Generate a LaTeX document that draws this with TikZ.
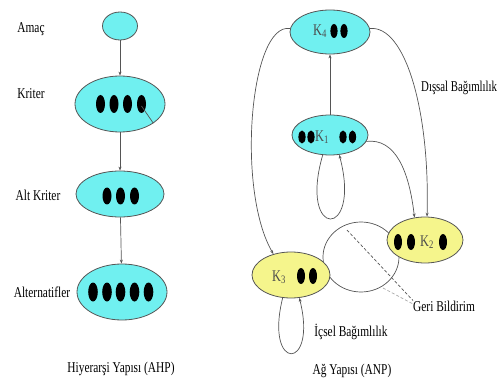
\documentclass[tikz,border=0pt]{standalone}
\usepackage{fontspec}
\usepackage{graphicx}
\setmainfont{Liberation Serif}
\usetikzlibrary{arrows.meta,shapes.geometric}
\definecolor{aqua}{RGB}{112,240,240}
\definecolor{lyellow}{RGB}{245,245,140}
\definecolor{edge}{RGB}{85,85,85}
\newcommand\talltext[1]{\scalebox{0.95}[1.25]{#1}}
\begin{document}
\begin{tikzpicture}[x=1pt,y=-1pt,
  ell/.style={ellipse,draw=edge,line width=0.8pt,inner sep=0pt},
  cy/.style={ell,fill=aqua},
  ye/.style={ell,fill=lyellow},
  lbl/.style={font=\fontsize{12}{14}\selectfont,inner sep=0pt},
  conn/.style={draw=edge,line width=0.7pt},
  arr/.style={conn,-{Stealth[length=4pt,width=3pt]}},
  fb/.style={conn,dash pattern=on 3pt off 2pt},
  ktext/.style={font=\fontsize{13}{14}\selectfont,text=black!70,inner sep=0pt}]
\useasboundingbox (0,0) rectangle (501,385);

% feedback loop behind K3 and K2
\draw[conn] (361,257) ellipse [x radius=38, y radius=35];

% AHP nodes
\node[cy,minimum width=35,minimum height=28] (amac) at (120,26) {};
\node[cy,minimum width=90,minimum height=56] (krit) at (120,104) {};
\node[cy,minimum width=88,minimum height=46] (alt) at (120,194) {};
\node[cy,minimum width=90,minimum height=56] (alts) at (122,292) {};

% ANP nodes
\node[cy,minimum width=80,minimum height=44] (k4) at (330,32) {};
\node[cy,minimum width=76,minimum height=40] (k1) at (330,135) {};
\node[ye,minimum width=76,minimum height=46] (k2) at (425,240) {};
\node[ye,minimum width=78,minimum height=46] (k3) at (291,275) {};

% dots
\foreach \x in {100.5,114,127.5,141.5} \fill (\x,104) ellipse [x radius=4.5, y radius=9];
\foreach \x in {107,120.5,134.5} \fill (\x,196) ellipse [x radius=4.5, y radius=8.5];
\foreach \x in {93,107,120.5,134.5,148.5} \fill (\x,292) ellipse [x radius=4.8, y radius=9.5];
\foreach \x in {334,344} \fill (\x,31) ellipse [x radius=3.6, y radius=7];
\foreach \x in {302,311,343,352.5} \fill (\x,137) ellipse [x radius=3.6, y radius=6.5];
\foreach \x in {398,411,443} \fill (\x,242) ellipse [x radius=4, y radius=8];
\foreach \x in {301,313} \fill (\x,276) ellipse [x radius=4, y radius=8];

% K labels
\node[ktext] (k4t) at (320,31) {\talltext{K\textsubscript{4}}};
\node[ktext] (k1t) at (322,137) {\talltext{K\textsubscript{1}}};
\node[ktext] (k2t) at (427,242) {\talltext{K\textsubscript{2}}};
\node[ktext] (k3t) at (279,277) {\talltext{K\textsubscript{3}}};

% text labels
\node[lbl] (tamac) at (31,29) {\talltext{Amaç}};
\node[lbl] (tkrit) at (31,94) {\talltext{Kriter}};
\node[lbl] (talt) at (38,195) {\talltext{Alt Kriter}};
\node[lbl] (talts) at (42,292) {\talltext{Alternatifler}};
\node[lbl] (tahp) at (121,369) {\talltext{Hiyerarşi Yapısı (AHP)}};
\node[lbl,anchor=west] (tdis) at (421,88) {\scalebox{0.9}[1.25]{Dışsal Bağımlılık}};
\node[lbl,anchor=west] (geri) at (413,306) {\talltext{Geri Bildirim}};
\node[lbl] (icsel) at (351,332) {\talltext{İçsel Bağımlılık}};
\node[lbl] (tanp) at (352,371) {\talltext{Ağ Yapısı (ANP)}};

% AHP connectors
\draw[arr] (amac) -- (krit);
\draw[arr] (krit) -- (alt);
\draw[arr] (alt) -- (alts);
\coordinate (kdot) at (141.5,106);
\draw[conn] (kdot) -- (krit.330);

% ANP connectors
\draw[arr] (k1) -- (k4);
\draw[arr] (k4.175) .. controls (250,22) and (236,190) .. (k3.130);
\draw[arr] (k4.5) .. controls (405,25) and (430,110) .. (k2.85);
\draw[arr] (k1.350) .. controls (395,138) and (409,170) .. (k2.115);
\draw[arr] (k1.250) .. controls (298,240) and (362,240) .. (k1.295);
\draw[arr] (k3.250) .. controls (264,372) and (318,372) .. (k3.290);

% feedback dashes
\coordinate (fb1) at (347,230);
\coordinate (fb2) at (383,288);
\draw[fb] (fb1) -- (geri.north west);
\draw[fb,draw=edge!50] (fb2) -- ([yshift=2pt]geri.west);
\end{tikzpicture}
\end{document}
